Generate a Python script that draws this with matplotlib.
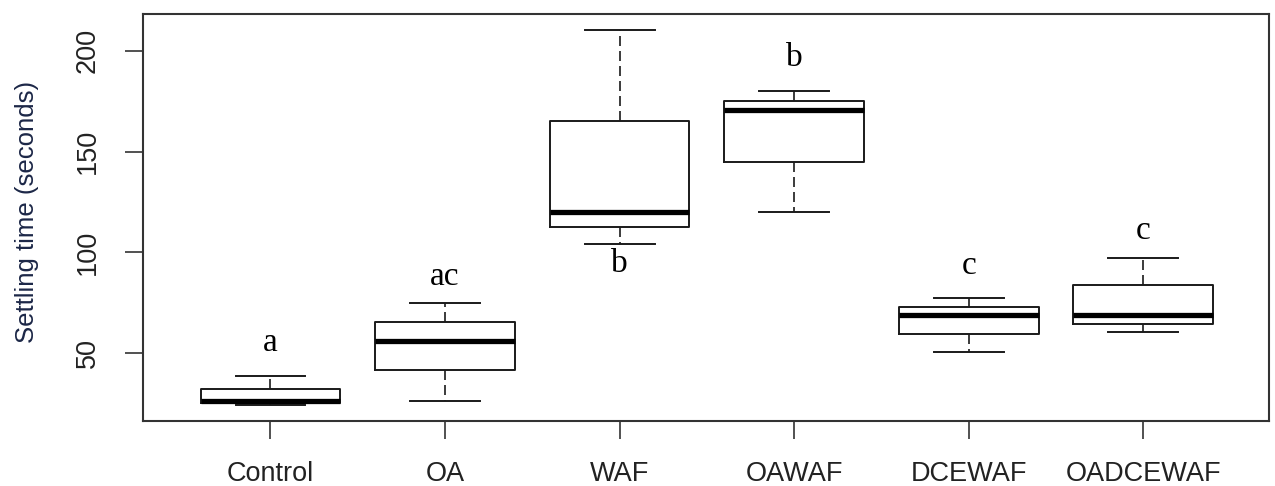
import matplotlib
matplotlib.use("Agg")
import matplotlib.pyplot as plt

# settling time (seconds) per treatment
groups = ["Control", "OA", "WAF", "OAWAF", "DCEWAF", "OADCEWAF"]
whisker_low = [24, 26, 104, 120, 50.5, 60.5]
q1 = [25, 41.5, 112.5, 145, 59.5, 64.5]
median = [26, 56, 120, 170.5, 69, 69]
q3 = [32, 65.5, 165, 175, 73, 84]
whisker_high = [38.5, 75, 210.5, 180, 77.5, 97]

# significance letters and the height they are written at
letters = ["a", "ac", "b", "b", "c", "c"]
letter_y = [55, 88, 94.5, 196.5, 93.5, 110.5]

LINE = "#1a1a1a"

fig = plt.figure(figsize=(12.75, 4.86), dpi=100)
ax = fig.add_axes([143 / 1275, 1 - 421 / 486, (1269 - 143) / 1275, (421 - 14) / 486])

stats = []
for i, name in enumerate(groups):
    stats.append(dict(label=name, med=median[i], q1=q1[i], q3=q3[i],
                      whislo=whisker_low[i], whishi=whisker_high[i], fliers=[]))

positions = list(range(1, len(groups) + 1))
ax.bxp(stats, positions=positions, widths=0.8, showfliers=False,
       boxprops=dict(color=LINE, linewidth=1.4),
       medianprops=dict(color="black", linewidth=3.8, solid_capstyle="butt"),
       whiskerprops=dict(color=LINE, linewidth=1.2, linestyle=(0, (6, 3))),
       capprops=dict(color=LINE, linewidth=1.4),
       capwidths=0.4)

for x, lab, y in zip(positions, letters, letter_y):
    ax.text(x, y, lab, ha="center", va="center", fontsize=24,
            family="Liberation Serif", color="black")

ax.set_xlim(0.27, 6.72)
ax.set_ylim(50 - (421 - 353) / 2.014, 50 + (353 - 14) / 2.014)
ax.set_yticks([50, 100, 150, 200])
ax.set_xticks(positions)
ax.set_xticklabels(groups)

for lab in ax.get_yticklabels():
    lab.set_rotation(90)
    lab.set_va("center")

ax.tick_params(axis="both", length=13, width=1.2, color="#333333",
               labelsize=19.5, labelcolor="#222222", direction="out")
ax.tick_params(axis="x", pad=16)
ax.tick_params(axis="y", pad=17.5)
for lab in ax.get_xticklabels() + ax.get_yticklabels():
    lab.set_family("Liberation Sans")

for sp in ax.spines.values():
    sp.set_linewidth(1.5)
    sp.set_color("#333333")

fig.text(27 / 1275, 1 - 212 / 486, "Settling time (seconds)", rotation=90,
         ha="center", va="center", fontsize=18.5, family="Liberation Sans",
         color="#1c2747")

fig.savefig("out.png", dpi=100)
